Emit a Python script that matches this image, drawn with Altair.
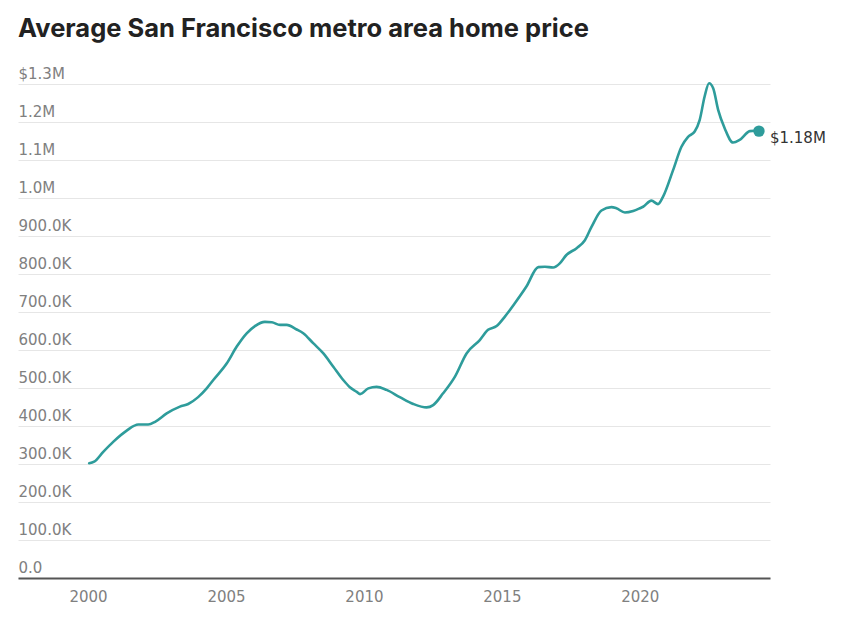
import altair as alt
import pandas as pd

title_text = "Average San Francisco metro area home price"

years = [
    2000.04, 2000.22, 2000.55, 2000.92, 2001.40, 2001.82, 2002.18, 2002.43, 2002.85,
    2003.33, 2003.63, 2003.99, 2004.30, 2004.54, 2005.03, 2005.39, 2005.75, 2006.05,
    2006.41, 2006.66, 2006.96, 2007.20, 2007.56, 2007.80, 2008.16, 2008.53, 2008.89,
    2009.25, 2009.49, 2009.74, 2009.86, 2010.16, 2010.46, 2010.82, 2011.30, 2011.79,
    2012.27, 2012.51, 2012.87, 2013.30, 2013.72, 2014.20, 2014.50, 2014.81, 2015.11,
    2015.47, 2015.89, 2016.32, 2016.56, 2016.86, 2017.10, 2017.34, 2017.71, 2018.01,
    2018.25, 2018.61, 2018.97, 2019.15, 2019.46, 2019.76, 2020.00, 2020.12, 2020.42,
    2020.66, 2020.84, 2021.21, 2021.51, 2021.75, 2021.99, 2022.17, 2022.35, 2022.51,
    2022.66, 2022.84, 2023.08, 2023.38, 2023.62, 2023.99, 2024.17, 2024.32,
]
prices_k = [
    302, 306, 332, 359, 388, 404, 404, 411, 433,
    451, 458, 476, 499, 521, 565, 609, 644, 663,
    674, 673, 666, 666, 654, 644, 618, 591, 556,
    521, 502, 490, 484, 499, 503, 495, 476, 458,
    449, 455, 486, 530, 591, 626, 653, 663, 688,
    723, 767, 818, 819, 817, 828, 850, 868, 889,
    924, 967, 976, 973, 962, 966, 973, 977, 993,
    984, 1003, 1074, 1135, 1161, 1175, 1205, 1267, 1302,
    1289, 1232, 1183, 1146, 1153, 1176, 1177, 1176,
]
last_label = "$1.18M"

x_ticks = [2000, 2005, 2010, 2015, 2020]
y_ticks = [0, 100000, 200000, 300000, 400000, 500000, 600000, 700000, 800000,
           900000, 1000000, 1100000, 1200000, 1300000]
y_tick_labels = ["0.0", "100.0K", "200.0K", "300.0K", "400.0K", "500.0K", "600.0K",
                 "700.0K", "800.0K", "900.0K", "1.0M", "1.1M", "1.2M", "$1.3M"]

df = pd.DataFrame({"year": years, "price": [p * 1000 for p in prices_k]})
last_df = df.tail(1).assign(label=last_label)

label_expr = "''"
for v, lab in zip(y_ticks, y_tick_labels):
    label_expr = f"datum.value == {v} ? '{lab}' : ({label_expr})"

teal = "#2e9c9b"
x_scale = alt.Scale(domain=[1997.46, 2024.72], nice=False, zero=False)
y_scale = alt.Scale(domain=[0, 1300000], nice=False)

x_axis = alt.Axis(
    values=x_ticks, format="d", title=None, grid=False, ticks=False,
    domainColor="#555555", domainWidth=2, labelPadding=11, labelOverlap=False,
    labelFont="DejaVu Sans", labelFontSize=15, labelColor="#808080")
y_axis = alt.Axis(
    values=y_ticks, tickCount=14, labelExpr=label_expr, title=None, domain=False,
    ticks=False, grid=True, gridColor="#e6e6e6", gridWidth=1, labelOverlap=False,
    labelAlign="left", labelBaseline="alphabetic", labelPadding=0, labelOffset=-6,
    labelFont="DejaVu Sans", labelFontSize=15, labelColor="#808080")


def enc():
    return dict(
        x=alt.X("year:Q", scale=x_scale, axis=x_axis),
        y=alt.Y("price:Q", scale=y_scale, axis=y_axis),
    )


line = alt.Chart(df).mark_line(
    color=teal, strokeWidth=2.6, interpolate="monotone", strokeCap="round"
).encode(**enc())

dot = alt.Chart(last_df).mark_point(
    filled=True, color=teal, size=130, opacity=1
).encode(**enc())

text = alt.Chart(last_df).mark_text(
    align="left", baseline="middle", dx=11, dy=7,
    font="DejaVu Sans", fontSize=15, color="#333333"
).encode(text="label:N", **enc())

chart = alt.layer(line, dot, text).properties(
    width=752, height=494,
    autosize=alt.AutoSizeParams(type="none"),
    padding={"left": 10, "top": 76, "right": 72, "bottom": 35},
    title=alt.TitleParams(
        title_text, anchor="start", font="Inter", fontSize=25.5,
        fontWeight="bold", color="#222222", offset=24),
).configure_view(stroke=None)

chart.save("out.html", embed_options={"renderer": "svg", "actions": False})
